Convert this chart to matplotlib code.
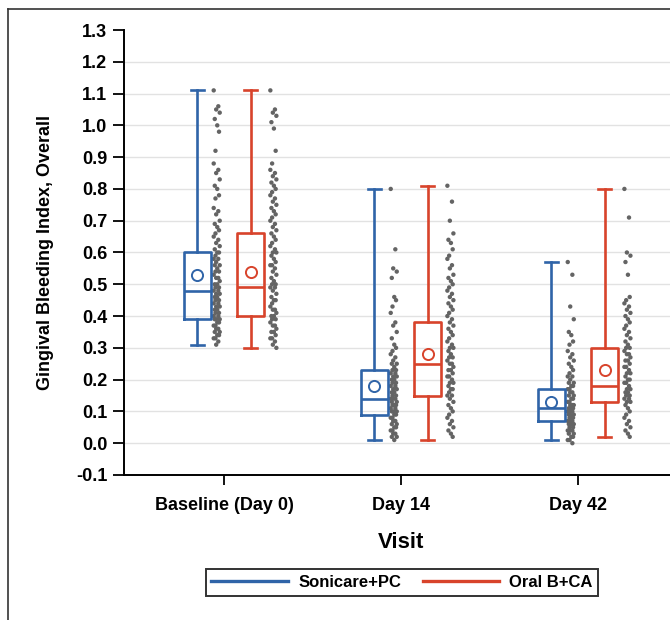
import numpy as np
import matplotlib
matplotlib.use("Agg")
import matplotlib.pyplot as plt
from matplotlib.lines import Line2D

# Visits on the x axis
visits = ["Baseline (Day 0)", "Day 14", "Day 42"]

# Box summaries: low whisker, Q1, median, Q3, high whisker, mean
sonic_lo = [0.31, 0.01, 0.01]
sonic_q1 = [0.39, 0.09, 0.07]
sonic_med = [0.48, 0.14, 0.11]
sonic_q3 = [0.60, 0.23, 0.17]
sonic_hi = [1.11, 0.80, 0.57]
sonic_mean = [0.53, 0.18, 0.13]

oral_lo = [0.30, 0.01, 0.02]
oral_q1 = [0.40, 0.15, 0.13]
oral_med = [0.49, 0.25, 0.18]
oral_q3 = [0.66, 0.38, 0.30]
oral_hi = [1.11, 0.81, 0.80]
oral_mean = [0.54, 0.28, 0.23]

# individual subject values (approximate readings)
base_sonic = [1.11, 1.06, 1.05, 1.04, 1.02, 1.00, 0.98, 0.92, 0.88, 0.86, 0.85, 0.83, 0.81, 0.80,
              0.78, 0.77, 0.74, 0.73, 0.72, 0.70, 0.69, 0.68, 0.67, 0.66, 0.65, 0.64, 0.63, 0.62,
              0.61, 0.60, 0.60, 0.59, 0.58, 0.58, 0.57, 0.56, 0.56, 0.55, 0.54, 0.54, 0.53, 0.52,
              0.52, 0.51, 0.50, 0.50, 0.49, 0.49, 0.48, 0.48, 0.47, 0.47, 0.46, 0.46, 0.45, 0.45,
              0.44, 0.44, 0.43, 0.43, 0.42, 0.42, 0.41, 0.41, 0.40, 0.40, 0.39, 0.39, 0.39, 0.38,
              0.38, 0.37, 0.37, 0.36, 0.36, 0.35, 0.35, 0.34, 0.34, 0.33, 0.33, 0.32, 0.31]
base_oral = [1.11, 1.05, 1.04, 1.03, 1.01, 0.99, 0.92, 0.88, 0.86, 0.85, 0.84, 0.83, 0.82, 0.81,
             0.80, 0.79, 0.78, 0.77, 0.76, 0.75, 0.74, 0.73, 0.72, 0.71, 0.70, 0.69, 0.68, 0.67,
             0.66, 0.65, 0.64, 0.63, 0.62, 0.61, 0.60, 0.60, 0.59, 0.58, 0.57, 0.56, 0.56, 0.55,
             0.54, 0.53, 0.52, 0.51, 0.50, 0.50, 0.49, 0.49, 0.48, 0.47, 0.46, 0.45, 0.45, 0.44,
             0.43, 0.42, 0.42, 0.41, 0.40, 0.40, 0.39, 0.39, 0.38, 0.37, 0.37, 0.36, 0.35, 0.35,
             0.34, 0.33, 0.33, 0.32, 0.31, 0.30]
d14_sonic = [0.80, 0.61, 0.55, 0.54, 0.52, 0.46, 0.45, 0.43, 0.41, 0.38, 0.37, 0.35, 0.33, 0.31,
             0.30, 0.29, 0.28, 0.27, 0.26, 0.25, 0.25, 0.24, 0.23, 0.23, 0.22, 0.22, 0.21, 0.21,
             0.20, 0.20, 0.19, 0.19, 0.18, 0.18, 0.17, 0.17, 0.16, 0.16, 0.15, 0.15, 0.14, 0.14,
             0.14, 0.13, 0.13, 0.12, 0.12, 0.12, 0.11, 0.11, 0.10, 0.10, 0.10, 0.09, 0.09, 0.08,
             0.08, 0.07, 0.07, 0.06, 0.06, 0.05, 0.05, 0.04, 0.04, 0.03, 0.03, 0.02, 0.02, 0.01]
d14_oral = [0.81, 0.76, 0.70, 0.66, 0.64, 0.63, 0.61, 0.59, 0.58, 0.56, 0.55, 0.53, 0.52, 0.51,
            0.50, 0.49, 0.48, 0.47, 0.46, 0.45, 0.44, 0.43, 0.42, 0.41, 0.40, 0.39, 0.38, 0.37,
            0.36, 0.35, 0.34, 0.33, 0.32, 0.31, 0.30, 0.30, 0.29, 0.28, 0.27, 0.27, 0.26, 0.25,
            0.25, 0.24, 0.23, 0.23, 0.22, 0.21, 0.21, 0.20, 0.19, 0.19, 0.18, 0.17, 0.17, 0.16,
            0.15, 0.15, 0.14, 0.13, 0.12, 0.11, 0.10, 0.09, 0.08, 0.07, 0.06, 0.05, 0.04, 0.03, 0.02]
d42_sonic = [0.57, 0.53, 0.43, 0.39, 0.35, 0.34, 0.32, 0.31, 0.29, 0.28, 0.27, 0.26, 0.25, 0.24,
             0.23, 0.22, 0.21, 0.21, 0.20, 0.19, 0.19, 0.18, 0.18, 0.17, 0.17, 0.16, 0.16, 0.15,
             0.15, 0.14, 0.14, 0.13, 0.13, 0.12, 0.12, 0.12, 0.11, 0.11, 0.11, 0.10, 0.10, 0.10,
             0.09, 0.09, 0.09, 0.08, 0.08, 0.08, 0.07, 0.07, 0.07, 0.06, 0.06, 0.06, 0.05, 0.05,
             0.04, 0.04, 0.04, 0.03, 0.03, 0.02, 0.02, 0.01, 0.01, 0.00]
d42_oral = [0.80, 0.71, 0.60, 0.59, 0.57, 0.53, 0.46, 0.45, 0.44, 0.43, 0.42, 0.41, 0.40, 0.39,
            0.38, 0.37, 0.36, 0.35, 0.34, 0.33, 0.32, 0.31, 0.30, 0.30, 0.29, 0.28, 0.28, 0.27,
            0.26, 0.26, 0.25, 0.24, 0.24, 0.23, 0.22, 0.22, 0.21, 0.20, 0.20, 0.19, 0.19, 0.18,
            0.17, 0.17, 0.16, 0.16, 0.15, 0.15, 0.14, 0.14, 0.13, 0.13, 0.12, 0.11, 0.10, 0.09,
            0.08, 0.07, 0.06, 0.05, 0.04, 0.03, 0.02]

sonic_points = [base_sonic, d14_sonic, d42_sonic]
oral_points = [base_oral, d14_oral, d42_oral]

BLUE = "#2f64a8"
RED = "#d8432b"
DOTS = "#646464"

plt.rcParams['font.family'] = ['Liberation Sans', 'DejaVu Sans']

fig = plt.figure(figsize=(6.7, 6.2), dpi=100)
# axes run past the right edge, as in the cropped original
ax = fig.add_axes([0.185, 0.2339, 0.827, 0.7177])

# outer frame (left and top edges only are visible)
fig.add_artist(Line2D([0.0125, 0.0125], [0.0, 0.986], transform=fig.transFigure, color="#333333", lw=1.2))
fig.add_artist(Line2D([0.0125, 1.0], [0.986, 0.986], transform=fig.transFigure, color="#333333", lw=1.2))

x = np.arange(len(visits))


def make_stats(lo, q1, med, q3, hi, mean):
	stats = []
	for i in range(len(lo)):
		stats.append(dict(whislo=lo[i], q1=q1[i], med=med[i], q3=q3[i], whishi=hi[i], mean=mean[i], fliers=[]))
	return stats


def draw_group(stats, pos, color):
	ax.bxp(stats, positions=pos, widths=0.155, showmeans=True, manage_ticks=False,
		boxprops=dict(color=color, lw=1.9),
		medianprops=dict(color=color, lw=1.9),
		whiskerprops=dict(color=color, lw=1.9),
		capprops=dict(color=color, lw=1.9),
		capwidths=0.075,
		meanprops=dict(marker="o", markerfacecolor="none", markeredgecolor=color, markersize=8, markeredgewidth=1.4),
		zorder=3)


def draw_points(groups, centre):
	# small fixed jitter pattern so the dots form a narrow column
	jit = [-0.018, 0.008, -0.004, 0.016, -0.012, 0.002, 0.012, -0.008]
	for i, vals in enumerate(groups):
		xs = [centre[i] + jit[k % len(jit)] for k in range(len(vals))]
		ax.scatter(xs, vals, s=10, color=DOTS, edgecolors="none", zorder=2)


draw_group(make_stats(sonic_lo, sonic_q1, sonic_med, sonic_q3, sonic_hi, sonic_mean), x - 0.15, BLUE)
draw_group(make_stats(oral_lo, oral_q1, oral_med, oral_q3, oral_hi, oral_mean), x + 0.15, RED)
draw_points(sonic_points, x - 0.04)
draw_points(oral_points, x + 0.28)

# gridlines
yticks = np.round(np.arange(-0.1, 1.31, 0.1), 1)
for yt in yticks[1:-1]:
	ax.axhline(yt, color="#e2e2e2", lw=1.0, zorder=0)

ax.set_xlim(-0.565, 2.565)
ax.set_ylim(-0.1, 1.3)
ax.set_yticks(yticks)
ax.set_yticklabels(["%.1f" % v for v in yticks])
ax.set_xticks(x)
ax.set_xticklabels(visits)

for s in ["top", "right"]:
	ax.spines[s].set_visible(False)
for s in ["left", "bottom"]:
	ax.spines[s].set_linewidth(1.4)

ax.tick_params(axis="y", length=8, width=1.3, labelsize=13, pad=4)
ax.tick_params(axis="x", length=7, width=1.3, labelsize=13, pad=9)
for lab in ax.get_yticklabels() + ax.get_xticklabels():
	lab.set_fontweight("bold")

ax.set_ylabel("Gingival Bleeding Index, Overall", fontsize=13, fontweight="bold", labelpad=16)
ax.set_xlabel("Visit", fontsize=16, fontweight="bold", labelpad=13)

handles = [Line2D([], [], color=BLUE, lw=2.4), Line2D([], [], color=RED, lw=2.4)]
leg = fig.legend(handles, ["Sonicare+PC", "Oral B+CA"], loc="center", bbox_to_anchor=(0.6, 0.061),
	ncol=2, frameon=True, fancybox=False, handlelength=4.6, handletextpad=0.6, columnspacing=1.3,
	prop=dict(size=12, weight="bold"), borderpad=0.35)
leg.get_frame().set_edgecolor("black")
leg.get_frame().set_linewidth(1.4)

plt.savefig("out.png", dpi=100)
